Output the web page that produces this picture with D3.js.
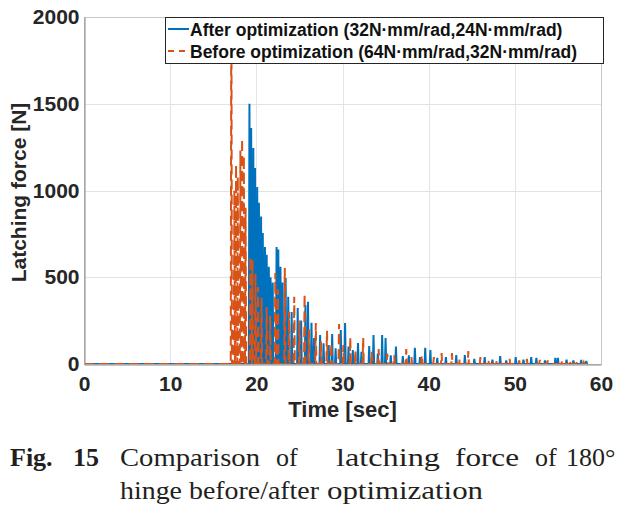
<!DOCTYPE html>
<html>
<head>
<meta charset="utf-8">
<script src="https://cdn.jsdelivr.net/npm/d3@7"></script>
<style>
  body { margin: 0; background: #fff; }
  svg { display: block; }
</style>
</head>
<body>
<div id="chart"></div>
<script>
// Impact peaks: time [sec] and latching force [N]
const afterTimes = [19.2, 19.4, 19.65, 19.85, 20.1, 20.3, 20.55, 20.75, 21.0, 21.2, 21.45, 21.65, 21.9,
  22.35, 22.55, 22.8, 23.05, 23.4, 23.7, 24.1, 24.8, 25.2, 25.7, 26.0, 26.4, 26.7, 27.4, 27.8, 28.4, 28.8,
  29.2, 29.8, 30.3, 30.7, 31.2, 31.8, 32.2, 33.1, 33.6, 34.1, 34.6, 35.0, 35.6, 36.2, 37.0, 37.7, 38.4,
  39.0, 39.6, 40.2, 41.0, 42.0, 43.2, 44.2, 45.3, 46.5, 47.4, 48.3, 49.0, 50.1, 51.0, 51.9, 52.5, 53.5,
  54.7, 55.0, 56.0, 56.8, 57.7, 58.3];
const afterForces = [1500, 1360, 1245, 1130, 1020, 930, 850, 755, 675, 630, 560, 500, 470,
  675, 660, 560, 470, 496, 388, 300, 323, 250, 340, 359, 238, 150, 167, 120, 110, 173,
  90, 196, 236, 100, 80, 121, 70, 104, 167, 60, 167, 150, 50, 100, 45, 50, 94,
  40, 94, 81, 35, 40, 52, 52, 30, 40, 25, 46, 20, 40, 25, 40, 35, 20,
  35, 35, 25, 20, 23, 17];

const beforeTimes = [17.1, 17.45, 17.65, 17.85, 18.15, 18.35, 18.55, 18.75, 19.3, 19.55, 19.9, 20.2, 20.6,
  21.2, 21.6, 22.2, 22.5, 23.3, 23.8, 24.4, 25.0, 25.6, 26.1, 26.9, 27.5, 28.2, 28.7, 29.6, 30.1, 30.9,
  31.5, 32.4, 33.4, 34.2, 35.2, 36.0, 37.4, 38.0, 39.2, 40.6, 41.5, 42.7, 43.6, 44.6, 46.0, 47.0, 47.9,
  49.4, 50.5, 51.4, 52.9, 53.8, 55.4, 56.4, 57.2, 58.0];
const beforeForces = [2400, 1000, 1150, 1080, 1230, 1300, 1200, 900, 617, 600, 520, 444, 380,
  329, 280, 524, 430, 553, 300, 388, 250, 403, 200, 236, 130, 192, 120, 230, 110, 155,
  80, 150, 70, 86, 60, 50, 86, 40, 50, 40, 63, 63, 30, 75, 40, 25, 20,
  29, 20, 29, 23, 20, 25, 20, 15, 10];

const endTime = 58.5;
const xTicks = [0, 10, 20, 30, 40, 50, 60];
const yTicks = [0, 500, 1000, 1500, 2000];
const seriesNames = ["After optimization (32N\u00b7mm/rad,24N\u00b7mm/rad)", "Before optimization (64N\u00b7mm/rad,32N\u00b7mm/rad)"];
const seriesColors = ["#0072BD", "#D95319"];

const width = 633, height = 509;
const margin = { left: 84, top: 17, right: 32, bottom: 145 };
const plotW = width - margin.left - margin.right;
const plotH = height - margin.top - margin.bottom;
const sans = "Arial, 'Liberation Sans', sans-serif";

const svg = d3.select("#chart").append("svg").attr("width", width).attr("height", height);

const x = d3.scaleLinear().domain([0, 60]).range([margin.left, margin.left + plotW]);
const y = d3.scaleLinear().domain([0, 2000]).range([margin.top + plotH, margin.top]);

svg.append("defs").append("clipPath").attr("id", "plot-clip")
  .append("rect").attr("x", margin.left).attr("y", margin.top).attr("width", plotW).attr("height", plotH);

// grid
const grid = svg.append("g").attr("stroke", "#e3e3e3").attr("stroke-width", 1);
grid.selectAll(".gx").data(xTicks.slice(1, -1)).enter().append("line")
  .attr("x1", (d) => Math.round(x(d)) + 0.5).attr("x2", (d) => Math.round(x(d)) + 0.5)
  .attr("y1", margin.top).attr("y2", margin.top + plotH);
grid.selectAll(".gy").data(yTicks.slice(1, -1)).enter().append("line")
  .attr("y1", (d) => Math.round(y(d)) + 0.5).attr("y2", (d) => Math.round(y(d)) + 0.5)
  .attr("x1", margin.left).attr("x2", margin.left + plotW);

// build spike series: each impact rises and falls within a short interval
function spikes(times, forces) {
  const pts = [[0, 0]];
  times.forEach((t, i) => {
    pts.push([t - 0.07, 0], [t, forces[i]], [t + 0.07, 0]);
  });
  pts.push([endTime, 0]);
  return pts;
}

const line = d3.line().x((d) => x(d[0])).y((d) => y(d[1]));
const plot = svg.append("g").attr("clip-path", "url(#plot-clip)");

plot.append("path").datum(spikes(afterTimes, afterForces))
  .attr("d", line).attr("fill", "none")
  .attr("stroke", seriesColors[0]).attr("stroke-width", 2).attr("stroke-linejoin", "miter");

plot.append("path").datum(spikes(beforeTimes, beforeForces))
  .attr("d", line).attr("fill", "none")
  .attr("stroke", seriesColors[1]).attr("stroke-width", 2).attr("stroke-dasharray", "10,5");

// axes box
const axisColor = "#8a8a8a";
svg.append("rect").attr("x", margin.left + 0.5).attr("y", margin.top + 0.5)
  .attr("width", plotW).attr("height", plotH)
  .attr("fill", "none").attr("stroke", "#c8c8c8");

const xAxis = d3.axisBottom(x).tickValues(xTicks).tickSize(0).tickPadding(12);
const gx = svg.append("g").attr("transform", `translate(0,${margin.top + plotH + 0.5})`).call(xAxis);
gx.select(".domain").attr("stroke", axisColor);
gx.selectAll("text").attr("font-family", sans)
  .attr("font-size", 21).attr("font-weight", "bold").attr("fill", "#262626");

const yAxis = d3.axisLeft(y).tickValues(yTicks).tickFormat(d3.format("d")).tickSize(0).tickPadding(5);
const gy = svg.append("g").attr("transform", `translate(${margin.left + 0.5},0)`).call(yAxis);
gy.select(".domain").attr("stroke", axisColor);
gy.selectAll("text").attr("font-family", sans)
  .attr("font-size", 21).attr("font-weight", "bold").attr("fill", "#262626");

// axis labels
svg.append("text").attr("x", margin.left + plotW / 2).attr("y", 417)
  .attr("text-anchor", "middle").attr("font-family", sans)
  .attr("font-size", 22).attr("font-weight", "bold").attr("fill", "#262626").text("Time [sec]");

svg.append("text").attr("transform", `translate(26,${margin.top + plotH / 2 + 2}) rotate(-90)`)
  .attr("text-anchor", "middle").attr("font-family", sans)
  .attr("font-size", 21).attr("font-weight", "bold").attr("fill", "#262626").text("Latching force [N]");

// legend
const legend = svg.append("g").attr("transform", "translate(165,17)");
legend.append("rect").attr("x", 0.5).attr("y", 0.5).attr("width", 438).attr("height", 46)
  .attr("fill", "#fff").attr("stroke", "#262626").attr("stroke-width", 1);
seriesNames.forEach((name, i) => {
  const ly = 12 + i * 22;
  legend.append("line").attr("x1", 3).attr("x2", 24).attr("y1", ly).attr("y2", ly)
    .attr("stroke", seriesColors[i]).attr("stroke-width", 2)
    .attr("stroke-dasharray", i === 1 ? "6,5" : null);
  legend.append("text").attr("x", 25).attr("y", ly + 7)
    .attr("font-family", sans).attr("font-size", 17.5)
    .attr("font-weight", "bold").attr("fill", "#111").text(name);
});

// caption (word positions as set in the figure)
const capFont = "'Times New Roman', 'Liberation Serif', serif";
const head = [["Fig.", 10], ["15", 73]];
const line1 = [["Comparison", 120, 140], ["of", 276, 0], ["latching", 336, 104], ["force", 455, 64], ["of", 535, 0], ["180\u00b0", 566, 0]];
const line2 = [["hinge", 120, 62], ["before/after", 189, 130], ["optimization", 327, 156]];
svg.selectAll(".head").data(head).enter().append("text")
  .attr("x", (d) => d[1]).attr("y", 466).attr("font-family", capFont)
  .attr("font-size", 26).attr("font-weight", "bold").attr("fill", "#231f20").text((d) => d[0]);
svg.selectAll(".cap1").data(line1).enter().append("text")
  .attr("x", (d) => d[1]).attr("y", 466).attr("font-family", capFont).attr("font-size", 26)
  .attr("textLength", (d) => d[2] || null).attr("lengthAdjust", "spacingAndGlyphs")
  .attr("fill", "#231f20").text((d) => d[0]);
svg.selectAll(".cap2").data(line2).enter().append("text")
  .attr("x", (d) => d[1]).attr("y", 499).attr("font-family", capFont).attr("font-size", 26)
  .attr("textLength", (d) => d[2]).attr("lengthAdjust", "spacingAndGlyphs")
  .attr("fill", "#231f20").text((d) => d[0]);
</script>
</body>
</html>
